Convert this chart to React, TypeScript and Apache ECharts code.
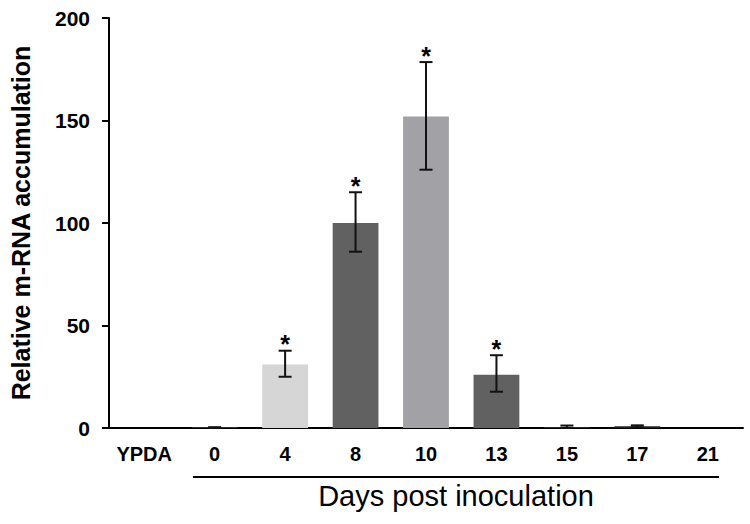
import React, { useEffect, useRef } from "react";
import * as echarts from "echarts";

const categories = ["YPDA", "0", "4", "8", "10", "13", "15", "17", "21"];
const means = [0, 0.2, 31, 100, 152, 26, 0.4, 0.8, 0];
const errLow = [0, 0, 25, 86, 126, 17.7, 0, 0.3, 0];
const errHigh = [0, 0.4, 37.7, 115, 178.5, 35.5, 1.2, 1.3, 0];
const significant = [false, false, true, true, true, true, false, false, false];
const barColors = ["#616161", "#616161", "#d6d6d6", "#616161", "#a2a2a6", "#616161", "#333333", "#222222", "#616161"];
const yTicks = [0, 50, 100, 150, 200];

const FONT = 'Arial, "Liberation Sans", Helvetica, sans-serif';

export default function App() {
  const ref = useRef<HTMLDivElement>(null);
  useEffect(() => {
    if (!ref.current) return;
    const chart = echarts.init(ref.current, null, { renderer: "svg" });
    const errData = categories.map((_, i) => [i, errLow[i], errHigh[i], significant[i] ? 1 : 0]);
    chart.setOption({
      animation: false,
      backgroundColor: "#ffffff",
      grid: { left: 104, right: 7, top: 18, bottom: 96, containLabel: false },
      xAxis: {
        type: "category",
        data: categories,
        axisLine: { lineStyle: { color: "#000", width: 2 } },
        axisTick: { alignWithLabel: true, interval: 0, length: 7, lineStyle: { color: "#000", width: 2 } },
        axisLabel: { interval: 0, color: "#000", fontFamily: FONT, fontWeight: "bold", fontSize: 20, margin: 16 },
      },
      yAxis: {
        type: "value",
        min: yTicks[0],
        max: yTicks[yTicks.length - 1],
        interval: 50,
        name: "Relative m-RNA accumulation",
        nameLocation: "middle",
        nameGap: 76,
        nameTextStyle: { color: "#000", fontFamily: FONT, fontWeight: "bold", fontSize: 25 },
        axisLine: { show: true, lineStyle: { color: "#000", width: 2 } },
        axisTick: { show: true, length: 7, lineStyle: { color: "#000", width: 2 } },
        axisLabel: { color: "#000", fontFamily: FONT, fontWeight: "bold", fontSize: 21, margin: 19 },
        splitLine: { show: false },
      },
      series: [
        {
          type: "bar",
          barWidth: "65%",
          data: means.map((v, i) => ({ value: v, itemStyle: { color: barColors[i] } })),
          z: 2,
        },
        {
          type: "custom",
          z: 3,
          data: errData,
          renderItem: (params: any, api: any) => {
            const x = api.value(0);
            const lo = api.value(1);
            const hi = api.value(2);
            const star = api.value(3);
            if (hi - lo <= 0) return null;
            const pHi = api.coord([x, hi]);
            const pLo = api.coord([x, lo]);
            const half = 6.5;
            const style = { stroke: "#111", lineWidth: 2 };
            const children: any[] = [
              { type: "line", shape: { x1: pHi[0], y1: pHi[1], x2: pLo[0], y2: pLo[1] }, style },
              { type: "line", shape: { x1: pHi[0] - half, y1: pHi[1], x2: pHi[0] + half, y2: pHi[1] }, style },
              { type: "line", shape: { x1: pLo[0] - half, y1: pLo[1], x2: pLo[0] + half, y2: pLo[1] }, style },
            ];
            if (star) {
              children.push({
                type: "text",
                style: {
                  text: "*",
                  x: pHi[0],
                  y: pHi[1] + 6,
                  align: "center",
                  verticalAlign: "bottom",
                  fill: "#000",
                  font: `bold 25px ${FONT}`,
                },
              });
            }
            return { type: "group", children };
          },
        },
      ],
      graphic: [
        { type: "line", shape: { x1: 193, y1: 477, x2: 719, y2: 477 }, style: { stroke: "#000", lineWidth: 2 } },
        {
          type: "text",
          x: 456,
          y: 496,
          style: { text: "Days post inoculation", fill: "#000", font: `29px ${FONT}`, align: "center", verticalAlign: "middle" },
        },
      ],
    });
    return () => chart.dispose();
  }, []);
  return <div ref={ref} style={{ width: 750, height: 524, position: "absolute", left: 0, top: 0 }} />;
}
